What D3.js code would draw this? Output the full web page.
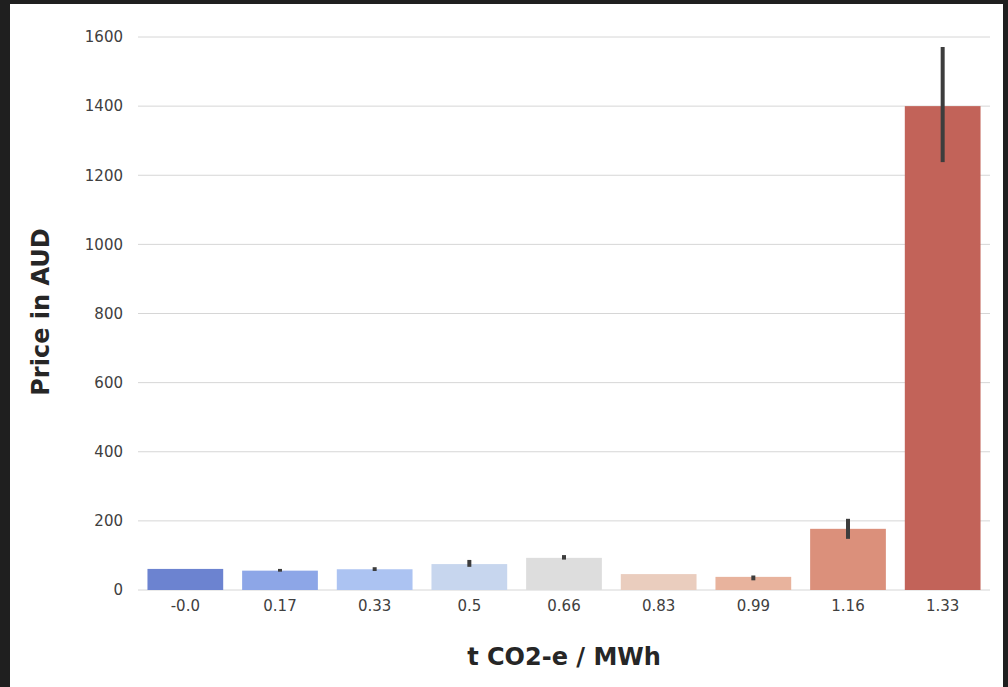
<!DOCTYPE html>
<html>
<head>
<meta charset="utf-8">
<script src="https://cdn.jsdelivr.net/npm/d3@7"></script>
<style>
  html, body { margin: 0; padding: 0; background: #1f1f1f; }
  svg { display: block; }
</style>
</head>
<body>
<svg id="chart" width="1008" height="687"></svg>
<script>
// Emission intensity bins (t CO2-e / MWh)
const categories = ["-0.0", "0.17", "0.33", "0.5", "0.66", "0.83", "0.99", "1.16", "1.33"];
// Mean price in AUD per bin
const meanPrice = [61, 56, 60, 75, 93, 46, 38, 177, 1400];
// Confidence interval bounds per bin
const ciLow  = [61, 53, 55, 67, 88, 46, 28, 148, 1238];
const ciHigh = [61, 61, 66, 87, 101, 46, 42, 206, 1571];
// Y-axis tick values
const yTicks = [0, 200, 400, 600, 800, 1000, 1200, 1400, 1600];
// Diverging palette (coolwarm) sampled at nine points
const palette = ["#5978e3", "#7b9ef9", "#9fbeff", "#c0d4f5", "#dddddd",
                 "#f2cab6", "#f7ad8e", "#ee8568", "#d75344"];

const svg = d3.select("#chart");
const W = 1008, H = 687;

// page frame
svg.append("rect").attr("x", 0).attr("y", 0).attr("width", W).attr("height", H).attr("fill", "#1f1f1f");
svg.append("rect").attr("x", 10).attr("y", 4).attr("width", 993).attr("height", H - 4).attr("fill", "#ffffff");

const x = d3.scaleBand().domain(categories).range([138, 990]).paddingInner(0.2).paddingOuter(0.1);
const y = d3.scaleLinear().domain([0, 1600]).range([590, 37]);

// desaturate like a bar plot's default saturation
const fillFor = (c) => { const h = d3.hsl(c); h.s *= 0.72; return h.formatHex(); };

// horizontal grid
svg.append("g").selectAll("line").data(yTicks).join("line")
  .attr("x1", 138).attr("x2", 990)
  .attr("y1", d => y(d)).attr("y2", d => y(d))
  .attr("stroke", "#d6d6d6").attr("stroke-width", 1);

// y axis (labels only)
const yAxis = svg.append("g").attr("transform", "translate(138,0)")
  .call(d3.axisLeft(y).tickValues(yTicks).tickSize(0).tickPadding(15).tickFormat(d3.format("d")));
yAxis.select(".domain").remove();
yAxis.selectAll("text").attr("font-family", "DejaVu Sans").attr("font-size", 15).attr("fill", "#404040");

// x axis (labels only)
const xAxis = svg.append("g").attr("transform", "translate(0,590)")
  .call(d3.axisBottom(x).tickSize(0).tickPadding(10));
xAxis.select(".domain").remove();
xAxis.selectAll("text").attr("font-family", "DejaVu Sans").attr("font-size", 15).attr("fill", "#404040");

// bars
svg.append("g").selectAll("rect").data(categories).join("rect")
  .attr("x", d => x(d))
  .attr("width", x.bandwidth())
  .attr("y", (d, i) => y(meanPrice[i]))
  .attr("height", (d, i) => y(0) - y(meanPrice[i]))
  .attr("fill", (d, i) => fillFor(palette[i]));

// error bars
svg.append("g").selectAll("line").data(categories).join("line")
  .attr("x1", d => x(d) + x.bandwidth() / 2)
  .attr("x2", d => x(d) + x.bandwidth() / 2)
  .attr("y1", (d, i) => y(ciLow[i]))
  .attr("y2", (d, i) => y(ciHigh[i]))
  .attr("stroke", "#3d3d3d").attr("stroke-width", 4);

// axis titles
svg.append("text")
  .attr("x", 564).attr("y", 665)
  .attr("text-anchor", "middle")
  .attr("font-family", "DejaVu Sans").attr("font-weight", "bold").attr("font-size", 24)
  .attr("fill", "#262626")
  .text("t CO2-e / MWh");

svg.append("text")
  .attr("transform", "translate(49,312) rotate(-90)")
  .attr("text-anchor", "middle")
  .attr("font-family", "DejaVu Sans").attr("font-weight", "bold").attr("font-size", 24)
  .attr("fill", "#262626")
  .text("Price in AUD");
</script>
</body>
</html>
